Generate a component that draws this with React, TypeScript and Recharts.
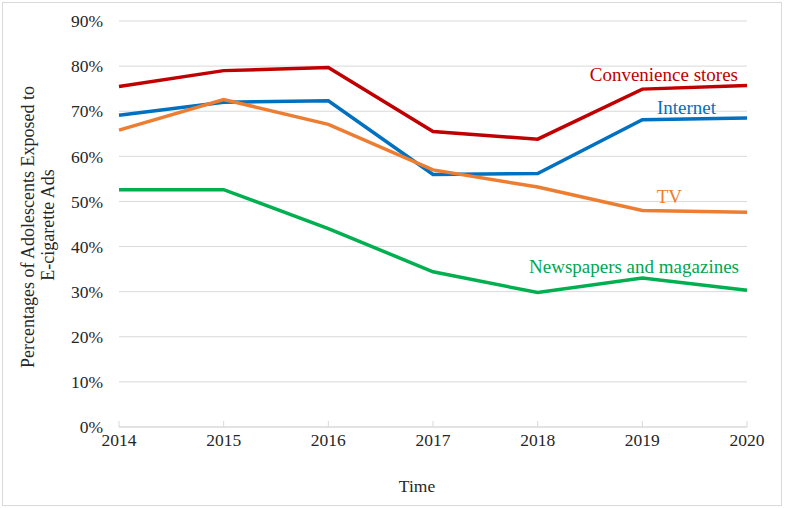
import React from "react";
import { LineChart, Line, XAxis, YAxis, CartesianGrid, LabelList, Label } from "recharts";

const years = ["2014", "2015", "2016", "2017", "2018", "2019", "2020"];
const convenience = [75.5, 79.0, 79.7, 65.5, 63.8, 74.9, 75.7];
const internet = [69.1, 72.0, 72.3, 56.0, 56.2, 68.1, 68.5];
const tv = [65.8, 72.6, 67.1, 57.0, 53.2, 48.0, 47.6];
const newspapers = [52.6, 52.6, 44.0, 34.4, 29.8, 33.0, 30.3];
const yTicks = [0, 10, 20, 30, 40, 50, 60, 70, 80, 90];

const data = years.map((y, i) => ({
  year: y,
  conv: convenience[i],
  net: internet[i],
  tv: tv[i],
  news: newspapers[i],
}));

const FONT = "Liberation Serif, Times New Roman, serif";
const TEXT = "#262626";

const makeEndLabel = (text: string, color: string, dx: number, dy: number) => (props: any) => {
  const { x, y, index } = props;
  if (index !== years.length - 1) return null;
  return (
    <text
      x={x + dx}
      y={y + dy}
      textAnchor="end"
      style={{ fill: color, fontSize: 19, fontFamily: FONT }}
    >
      {text}
    </text>
  );
};

const YTitle = (props: any) => {
  const vb = props.viewBox || { x: 0, y: 0, width: 0, height: 0 };
  const cy = vb.y + vb.height / 2 + 3;
  const x1 = 28;
  const x2 = 48;
  const st = { fill: TEXT, fontSize: 18, fontFamily: FONT };
  return (
    <g>
      <text
        x={x1}
        y={cy}
        transform={`rotate(-90, ${x1}, ${cy})`}
        textAnchor="middle"
        dominantBaseline="central"
        style={st}
      >
        Percentages of Adolescents Exposed to
      </text>
      <text
        x={x2}
        y={cy - 2}
        transform={`rotate(-90, ${x2}, ${cy - 2})`}
        textAnchor="middle"
        dominantBaseline="central"
        style={st}
      >
        E-cigarette Ads
      </text>
    </g>
  );
};

const tickStyle = { fill: TEXT, fontSize: 17.5, fontFamily: FONT, style: { fontFamily: FONT } } as any;

export default function App() {
  return (
    <div style={{ position: "absolute", left: 0, top: 0, width: 785, height: 508, background: "#fff", fontFamily: FONT }}>
      <div
        style={{
          position: "absolute",
          left: 2,
          top: 2,
          width: 780,
          height: 504,
          border: "1px solid #d9d9d9",
          boxSizing: "border-box",
        }}
      />
      <div style={{ position: "absolute", left: 0, top: 0 }}>
        <LineChart
          width={785}
          height={508}
          data={data}
          margin={{ top: 21, right: 38, bottom: 0, left: 0 }}
          style={{ fontFamily: FONT }}
        >
          <CartesianGrid vertical={false} stroke="#d9d9d9" strokeWidth={1} />
          <XAxis
            dataKey="year"
            height={81}
            stroke="#d9d9d9"
            tickSize={-6}
            tickMargin={13}
            tick={tickStyle}
            interval={0}
          >
            <Label
              value="Time"
              position="insideBottom"
              offset={16}
              dx={-16}
              style={{ fill: TEXT, fontSize: 17.5, fontFamily: FONT }}
            />
          </XAxis>
          <YAxis
            width={119}
            domain={[0, 90]}
            ticks={yTicks}
            axisLine={false}
            tickLine={false}
            tickMargin={10}
            tickFormatter={(v: number) => `${v}%`}
            tick={tickStyle}
            interval={0}
          >
            <Label content={<YTitle />} />
          </YAxis>
          <Line
            type="linear"
            dataKey="conv"
            stroke="#C00000"
            strokeWidth={3.5}
            dot={false}
            isAnimationActive={false}
          >
            <LabelList dataKey="conv" content={makeEndLabel("Convenience stores", "#C00000", -9, -5)} />
          </Line>
          <Line
            type="linear"
            dataKey="net"
            stroke="#0070C0"
            strokeWidth={3.5}
            dot={false}
            isAnimationActive={false}
          >
            <LabelList dataKey="net" content={makeEndLabel("Internet", "#0070C0", -31, -4)} />
          </Line>
          <Line
            type="linear"
            dataKey="tv"
            stroke="#ED7D31"
            strokeWidth={3.5}
            dot={false}
            isAnimationActive={false}
          >
            <LabelList dataKey="tv" content={makeEndLabel("TV", "#ED7D31", -65, -9)} />
          </Line>
          <Line
            type="linear"
            dataKey="news"
            stroke="#00B050"
            strokeWidth={3.5}
            dot={false}
            isAnimationActive={false}
          >
            <LabelList dataKey="news" content={makeEndLabel("Newspapers and magazines", "#00A651", -8, -17)} />
          </Line>
        </LineChart>
      </div>
    </div>
  );
}
